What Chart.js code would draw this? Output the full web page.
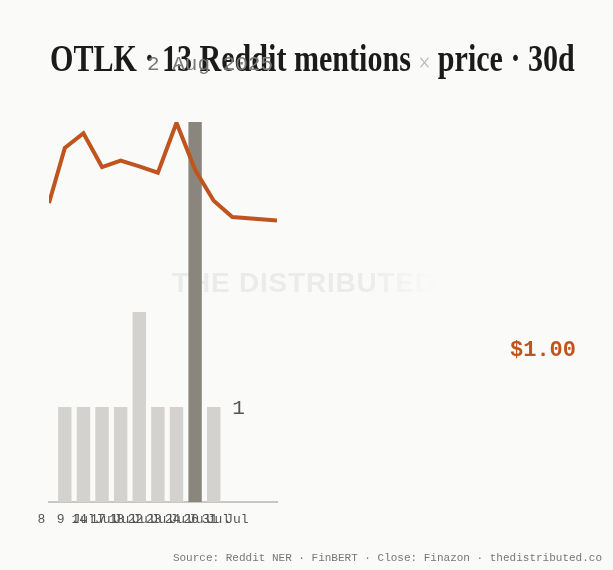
<!DOCTYPE html>
<html>
<head>
<meta charset="utf-8">
<title>OTLK Reddit mentions x price</title>
<script src="https://cdn.jsdelivr.net/npm/chart.js@4.4.1/dist/chart.umd.min.js"></script>
<style>
  html, body { margin: 0; padding: 0; background: #fafaf8; }
  #wrap { position: relative; width: 613px; height: 570px; overflow: hidden; }
  #mark {
    position: absolute; left: 172px; top: 269px;
    font-family: "Liberation Sans", sans-serif; font-weight: bold;
    font-size: 28px; line-height: 28px; letter-spacing: 0.8px; white-space: nowrap;
    background: linear-gradient(to right, rgba(0,0,0,0.06) 0%, rgba(0,0,0,0.06) 72%, rgba(0,0,0,0) 100%);
    -webkit-background-clip: text; background-clip: text; color: transparent;
  }
  #chart { position: absolute; left: 0; top: 0; }
  #title {
    position: absolute; left: 50px; top: 39.5px;
    font-family: "Liberation Serif", serif; font-weight: bold;
    font-size: 37px; line-height: 37px; color: #1b1b1b; white-space: nowrap;
    transform-origin: 0 0;
  }
  #title .x { color: #b9b9b7; font-weight: normal; font-size: 26px; }
  #peak {
    position: absolute; left: 147px; top: 54px;
    font-family: "Liberation Mono", monospace; font-size: 21px; line-height: 21px;
    color: #7a7a78; white-space: nowrap;
  }
  #source {
    position: absolute; right: 11px; top: 552.6px;
    font-family: "Liberation Mono", monospace; font-size: 11px; line-height: 11px;
    color: #777; white-space: nowrap;
  }
</style>
</head>
<body>
<div id="wrap">
  <div id="mark">THE DISTRIBUTED</div>
  <canvas id="chart" width="613" height="570"></canvas>
  <div id="title">OTLK · 13 Reddit mentions <span class="x">×</span> price · 30d</div>
  <div id="peak">2 Aug 2025</div>
  <div id="source">Source: Reddit NER · FinBERT · Close: Finazon · thedistributed.co</div>
</div>
<script>
// mentions per day (bars) and daily close (line), x in day steps
var barDays = [0, 1, 2, 3, 4, 5, 6, 7, 8];
var mentions = [1, 1, 1, 1, 2, 1, 1, 4, 1];
var priceDays = [-0.85, 0, 1, 2, 3, 4, 5, 6, 7, 8, 9, 11.4];
var prices = [1.025, 1.103, 1.124, 1.076, 1.085, 1.077, 1.068, 1.139, 1.072, 1.028, 1.005, 1.00];
var tickDays = [-1.26, 0.62, 1.62, 2.62, 3.62, 4.62, 5.62, 6.62, 7.62, 8.62];
var tickLabels = ['8', '9 Jul', '14 Jul', '17 Jul', '18 Jul', '22 Jul', '23 Jul', '24 Jul', '26 Jul', '31 Jul'];

var peakIndex = mentions.indexOf(Math.max.apply(null, mentions));

// squeeze the title to the width of the original display face
var title = document.getElementById('title');
title.style.transform = 'scaleX(' + (525 / title.offsetWidth) + ')';

var labelsPlugin = {
    id: 'sideLabels',
    afterDatasetsDraw: function(chart) {
        var ctx = chart.ctx;
        var area = chart.chartArea;
        var y = chart.scales.y;
        ctx.save();
        ctx.textBaseline = 'middle';
        // last mentions count next to the bars
        ctx.font = '21px "Liberation Mono", monospace';
        ctx.fillStyle = '#555553';
        ctx.textAlign = 'center';
        ctx.fillText(String(mentions[mentions.length - 1]), area.right - 38.5, y.getPixelForValue(1) + 1);
        // last close
        ctx.font = 'bold 22px "Liberation Mono", monospace';
        ctx.fillStyle = '#bf541e';
        ctx.textAlign = 'right';
        ctx.fillText('$' + prices[prices.length - 1].toFixed(2), 576, 350);
        ctx.restore();
    }
};

var ctx = document.getElementById('chart').getContext('2d');
var chart = new Chart(ctx, {
    data: {
        datasets: [{
            type: 'line',
            label: 'Close',
            data: priceDays.map(function(d, i) { return { x: d, y: prices[i] }; }),
            yAxisID: 'y1',
            borderColor: '#bf541e',
            borderWidth: 4,
            pointRadius: 0,
            tension: 0,
            order: 0
        }, {
            type: 'bar',
            label: 'Mentions',
            data: barDays.map(function(d, i) { return { x: d, y: mentions[i] }; }),
            yAxisID: 'y',
            backgroundColor: function(c) { return c.dataIndex === peakIndex ? '#8a867e' : '#d3d2ce'; },
            order: 1
        }]
    },
    plugins: [labelsPlugin],
    options: {
        responsive: false,
        animation: false,
        layout: { padding: { left: 49, right: 336, top: 122, bottom: 42 } },
        plugins: { legend: { display: false }, tooltip: { enabled: false } },
        scales: {
            x: {
                type: 'linear',
                min: -0.85,
                max: 11.4,
                offset: false,
                grid: { display: false, drawTicks: false, offset: false },
                border: { display: true, color: '#c9c7c3', width: 2 },
                afterBuildTicks: function(axis) {
                    axis.ticks = tickDays.map(function(v) { return { value: v }; });
                },
                afterFit: function(axis) {
                    axis.paddingLeft = 0;
                    axis.paddingRight = 0;
                    axis.height = 26;
                },
                ticks: {
                    autoSkip: false,
                    maxRotation: 0,
                    minRotation: 0,
                    padding: 10,
                    color: '#555553',
                    font: { family: '"Liberation Mono", monospace', size: 13 },
                    callback: function(value, index) { return tickLabels[index]; }
                }
            },
            y: { display: false, min: 0, max: 4 },
            y1: { display: false, min: 0.6, max: 1.14 }
        }
    }
});
</script>
</body>
</html>
